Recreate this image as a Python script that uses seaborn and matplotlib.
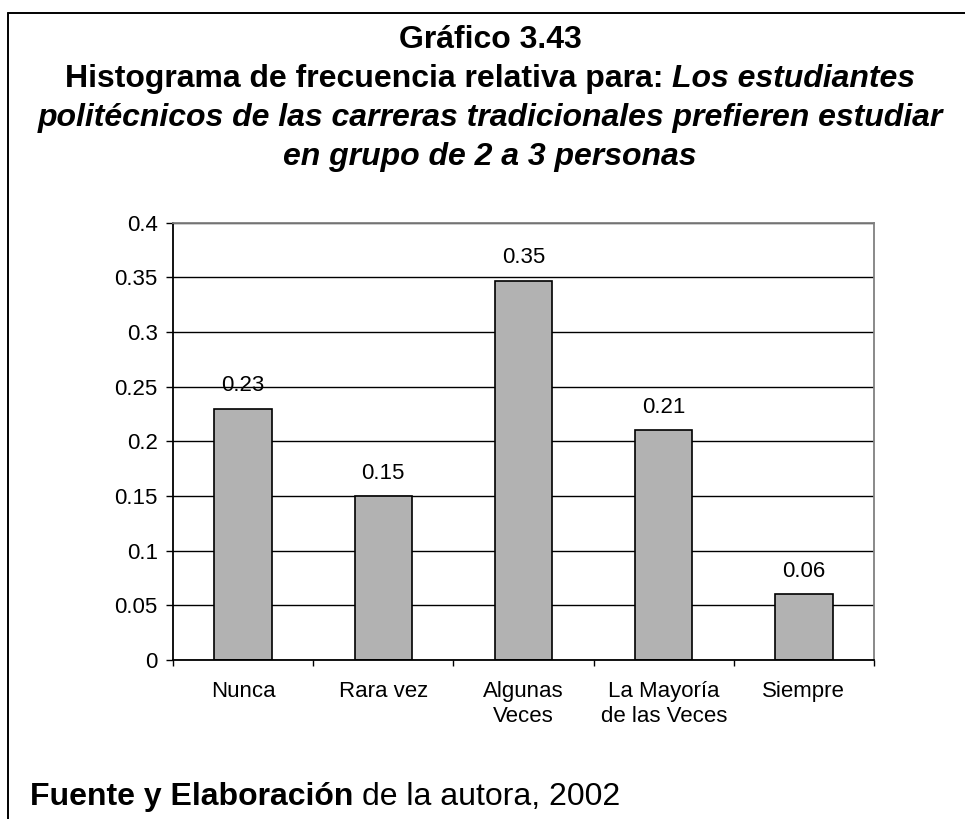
import matplotlib
matplotlib.use("Agg")
import matplotlib.pyplot as plt
import seaborn as sns
import pandas as pd
from matplotlib.lines import Line2D

# ---------------- data ----------------
categories = ["Nunca", "Rara vez", "Algunas\nVeces", "La Mayoría\nde las Veces", "Siempre"]
values = [0.23, 0.15, 0.347, 0.21, 0.06]
y_ticks = [0, 0.05, 0.1, 0.15, 0.2, 0.25, 0.3, 0.35, 0.4]
y_tick_labels = ["0", "0.05", "0.1", "0.15", "0.2", "0.25", "0.3", "0.35", "0.4"]
title_line1 = "Gráfico 3.43"
title_line2_a = "Histograma de frecuencia relativa para: "
title_line2_b = "Los estudiantes"
title_line3 = "politécnicos de las carreras tradicionales prefieren estudiar"
title_line4 = "en grupo de 2 a 3 personas"
footer_a = "Fuente y Elaboración"
footer_b = " de la autora, 2002"

sns.set_style("white")
plt.rcParams['font.family'] = ['Liberation Sans', 'DejaVu Sans']
plt.rcParams['text.color'] = 'black'
plt.rcParams['axes.labelcolor'] = 'black'
plt.rcParams['xtick.color'] = 'black'
plt.rcParams['ytick.color'] = 'black'

W, H = 965, 819
fig = plt.figure(figsize=(W / 100, H / 100), dpi=100)
fig.patch.set_facecolor("white")

ax_left, ax_right, ax_top, ax_bottom = 173, 874, 222.7, 660
ax = fig.add_axes([ax_left / W, 1 - ax_bottom / H, (ax_right - ax_left) / W, (ax_bottom - ax_top) / H])

df = pd.DataFrame({"cat": categories, "val": values})
sns.barplot(data=df, x="cat", y="val", ax=ax, color="#B2B2B2", saturation=1,
            width=0.41, edgecolor="black", linewidth=1.2, errorbar=None)

ax.set_xlim(-0.5, len(categories) - 0.5)
ax.set_ylim(0, 0.4)
ax.set_yticks(y_ticks)
ax.set_yticklabels(y_tick_labels, fontsize=16, color="black")
ax.set_xlabel("")
ax.set_ylabel("")

# x ticks: marks at category boundaries, labels at centres
ax.set_xticks([i - 0.5 for i in range(len(categories) + 1)])
ax.set_xticklabels([""] * (len(categories) + 1))
ax.set_xticks(range(len(categories)), minor=True)
ax.set_xticklabels(categories, minor=True, fontsize=16, linespacing=1.25, color="black")
ax.tick_params(axis="x", which="major", direction="out", length=4.5, width=1, color="black", bottom=True)
ax.tick_params(axis="x", which="minor", length=0, pad=15, bottom=True)
ax.tick_params(axis="y", direction="out", length=5, width=1, color="black", pad=6, left=True)

ax.yaxis.grid(True, color="black", linewidth=1)
ax.xaxis.grid(False)
ax.set_axisbelow(True)

for s in ["left", "bottom"]:
    ax.spines[s].set_color("black")
    ax.spines[s].set_linewidth(1.3)
for s in ["top", "right"]:
    ax.spines[s].set_color("#808080")
    ax.spines[s].set_linewidth(1.3)

ax.bar_label(ax.containers[0], fmt="%.2f", padding=9, fontsize=16, color="black")

# ---------------- outer frame (left + top) ----------------
fig.add_artist(Line2D([8 / W, 8 / W], [0, 1 - 12.7 / H], transform=fig.transFigure, color="black", lw=1.4))
fig.add_artist(Line2D([8 / W, 1], [1 - 12.7 / H, 1 - 12.7 / H], transform=fig.transFigure, color="black", lw=1.4))

# ---------------- multi-style text helper ----------------
renderer = fig.canvas.get_renderer()


def text_width(s, **kw):
    t = fig.text(0, 0, s, **kw)
    w = t.get_window_extent(renderer).width
    t.remove()
    return w


def draw_parts(parts, y_px, x_px, align="center", size=23):
    widths = []
    for s, weight, style in parts:
        kw = dict(fontsize=size, fontweight=weight, fontstyle=style, color="black")
        stripped = s.strip(" ")
        lead = len(s) - len(s.lstrip(" "))
        trail = len(s) - len(s.rstrip(" "))
        sp = text_width("a a", **kw) - text_width("aa", **kw)
        widths.append((stripped, kw, lead * sp, text_width(stripped, **kw), trail * sp))
    total = sum(a + b + c for _, _, a, b, c in widths)
    x = x_px - total / 2 if align == "center" else x_px
    for stripped, kw, lead, w, trail in widths:
        x += lead
        fig.text(x / W, 1 - y_px / H, stripped, ha="left", va="baseline", **kw)
        x += w + trail


cx = 490
draw_parts([(title_line1, "bold", "normal")], 48, cx)
draw_parts([(title_line2_a, "bold", "normal"), (title_line2_b, "bold", "italic")], 87, cx)
draw_parts([(title_line3, "bold", "italic")], 126, cx)
draw_parts([(title_line4, "bold", "italic")], 165, cx)

draw_parts([(footer_a, "bold", "normal"), (footer_b, "normal", "normal")], 805, 30, align="left")

fig.savefig("out.png", dpi=100, facecolor="white")
